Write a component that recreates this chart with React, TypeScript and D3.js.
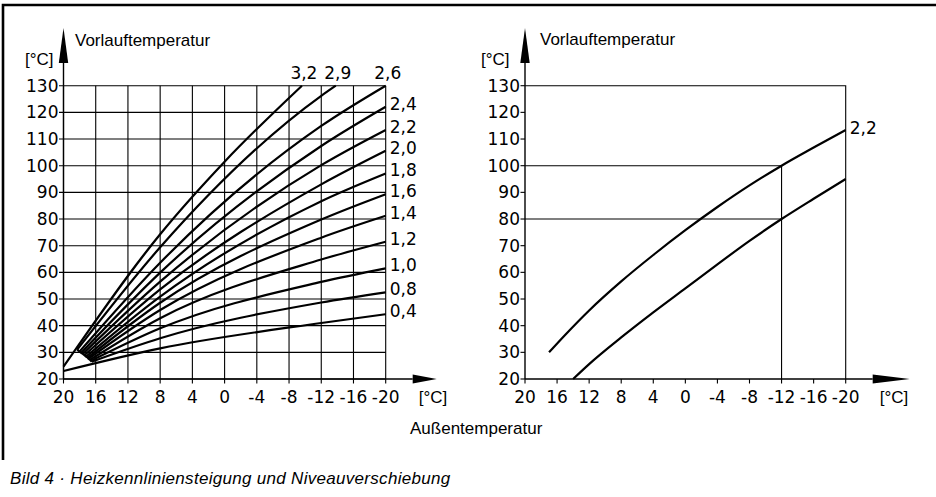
import React from 'react';
import * as d3 from 'd3';

const X_TICKS = [20, 16, 12, 8, 4, 0, -4, -8, -12, -16, -20];
const Y_TICKS = [20, 30, 40, 50, 60, 70, 80, 90, 100, 110, 120, 130];

// Heizkennlinien, points as [Außentemperatur, Vorlauftemperatur]
const curve32 = [[20, 24.6], [8, 74.3], [0, 101.5], [-9.6, 130]];
const curve29 = [[18.3, 31], [8, 69.4], [-12, 126.2], [-13.8, 130]];
const curve26 = [[18, 30.3], [8, 63.6], [-12, 114.9], [-20, 130]];
const curve24 = [[17.8, 29.8], [8, 59.9], [-12, 107.4], [-20, 122.1]];
const curve22 = [[17.6, 29.4], [8, 56.5], [-12, 100.2], [-20, 113.4]];
const curve20 = [[17.4, 28.9], [8, 53.6], [-12, 93.0], [-20, 105.6]];
const curve18 = [[17.2, 28.4], [8, 50.9], [-12, 86.7], [-20, 97.1]];
const curve16 = [[17.0, 28.0], [8, 48.6], [-12, 79.8], [-20, 89.3]];
const curve14 = [[16.9, 27.6], [8, 45.9], [-12, 73.0], [-20, 81.2]];
const curve12 = [[16.7, 27.2], [8, 42.8], [-12, 64.8], [-20, 71.5]];
const curve10 = [[16.6, 26.8], [8, 39.0], [-12, 56.4], [-20, 61.5]];
const curve08 = [[16.5, 26.5], [8, 35.3], [-12, 48.7], [-20, 52.5]];
const curve04 = [[20, 23.0], [8, 31.5], [-12, 41.0], [-20, 44.3]];

const SLOPE_LABELS = ['3,2', '2,9', '2,6', '2,4', '2,2', '2,0', '1,8', '1,6', '1,4', '1,2', '1,0', '0,8', '0,4'];
const SLOPE_CURVES = [curve32, curve29, curve26, curve24, curve22, curve20, curve18, curve16, curve14, curve12, curve10, curve08, curve04];

// Niveauverschiebung (right)
const level22 = [[17, 30], [15, 36.5], [12, 45.7], [8, 56.6], [4, 66.5], [0, 75.8], [-4, 84.5], [-8, 92.6], [-12, 100], [-16, 106.8], [-20, 113.4]];
const levelShifted = [[14, 20], [12, 25.6], [8, 35.6], [4, 45], [0, 54], [-4, 63], [-8, 71.8], [-12, 80], [-16, 87.6], [-20, 95]];
const GUIDE_X = -12;
const GUIDE_Y = [100, 80];

const NUM_FONT = "'DejaVu Sans', sans-serif";
const TXT_FONT = "'Liberation Sans', Arial, sans-serif";

const y = d3.scaleLinear().domain([20, 130]).range([379, 85.7]);
const xL = d3.scaleLinear().domain([20, -20]).range([63.5, 385.7]);
const xR = d3.scaleLinear().domain([20, -20]).range([525, 845.7]);

const lineFor = (xs: d3.ScaleLinear<number, number>) =>
  d3
    .line<number[]>()
    .x((d) => xs(d[0]))
    .y((d) => y(d[1]))
    .curve(d3.curveMonotoneX);

const Axes = ({ xs, arrowLen, grid }: { xs: d3.ScaleLinear<number, number>; arrowLen: number; grid: boolean }) => {
  const x0 = xs(20);
  const x1 = xs(-20);
  const yTop = y(130);
  const yBot = y(20);
  const axEnd = x1 + 27;
  return (
    <g>
      {Y_TICKS.map((t) => (
        <g key={'y' + t}>
          <line x1={x0 - 4.5} x2={grid ? x1 : x0} y1={y(t)} y2={y(t)} stroke="#000" strokeWidth={1.1} />
          <text x={x0 - 5} y={y(t)} textAnchor="end" dominantBaseline="central" fontFamily={NUM_FONT} fontSize={17}>
            {t}
          </text>
        </g>
      ))}
      {X_TICKS.map((t) => (
        <g key={'x' + t}>
          <line x1={xs(t)} x2={xs(t)} y1={yBot + 4.5} y2={grid ? yTop : yBot} stroke="#000" strokeWidth={1.1} />
          <text x={xs(t)} y={yBot + 18} textAnchor="middle" dominantBaseline="central" fontFamily={NUM_FONT} fontSize={17}>
            {t}
          </text>
        </g>
      ))}
      {/* y axis with arrow */}
      <line x1={x0} x2={x0} y1={yBot} y2={63} stroke="#000" strokeWidth={1.4} />
      <path d={`M${x0},28L${x0 + 4.7},63L${x0 - 4.7},63Z`} fill="#000" />
      {/* x axis with arrow */}
      <line x1={x0} x2={axEnd} y1={yBot} y2={yBot} stroke="#000" strokeWidth={1.4} />
      <path d={`M${axEnd + arrowLen},${yBot}L${axEnd},${yBot - 4.5}L${axEnd},${yBot + 4.5}Z`} fill="#000" />
    </g>
  );
};

export default function App() {
  const lineL = lineFor(xL);
  const lineR = lineFor(xR);
  const starts = SLOPE_CURVES.slice(1, 12).map((c) => c[0]);
  return (
    <svg width={936} height={497} style={{ position: 'absolute', left: 0, top: 0, background: '#fff' }}>
      {/* frame */}
      <path d="M3,460V5H936" fill="none" stroke="#000" strokeWidth={2.6} />

      {/* left chart */}
      <Axes xs={xL} arrowLen={24} grid={true} />
      <text x={75} y={46} fontFamily={TXT_FONT} fontSize={17}>Vorlauftemperatur</text>
      <text x={25} y={65} fontFamily={TXT_FONT} fontSize={17}>[°C]</text>
      <text x={433} y={397} textAnchor="middle" dominantBaseline="central" fontFamily={TXT_FONT} fontSize={17}>[°C]</text>
      <g fill="none" stroke="#000" strokeWidth={2.2}>
        {SLOPE_CURVES.map((c, i) => (
          <path key={SLOPE_LABELS[i]} d={lineL(c) || ''} />
        ))}
        <path d={d3.line()(starts.map((p) => [xL(p[0]), y(p[1])]) as [number, number][]) || ''} />
      </g>
      {SLOPE_CURVES.map((c, i) => {
        const end = c[c.length - 1];
        const top = end[1] >= 130;
        return (
          <text
            key={'l' + SLOPE_LABELS[i]}
            x={top ? xL(end[0]) + 2 : xL(end[0]) + 4}
            y={top ? y(end[1]) - 7 : y(end[1]) - 3}
            textAnchor={top ? 'middle' : 'start'}
            dominantBaseline={top ? 'alphabetic' : 'central'}
            fontFamily={NUM_FONT}
            fontSize={17}
          >
            {SLOPE_LABELS[i]}
          </text>
        );
      })}

      {/* right chart */}
      <Axes xs={xR} arrowLen={37} grid={false} />
      <g stroke="#000" strokeWidth={1.1} fill="none">
        <path d={`M${xR(20)},${y(130)}H${xR(-20)}V${y(20)}`} />
        {GUIDE_Y.map((g) => (
          <line key={'g' + g} x1={xR(20)} x2={xR(GUIDE_X)} y1={y(g)} y2={y(g)} />
        ))}
        <line x1={xR(GUIDE_X)} x2={xR(GUIDE_X)} y1={y(d3.max(GUIDE_Y) as number)} y2={y(20)} />
      </g>
      <g fill="none" stroke="#000" strokeWidth={2.2}>
        <path d={lineR(level22) || ''} />
        <path d={lineR(levelShifted) || ''} />
      </g>
      <text x={xR(-20) + 4} y={y(level22[level22.length - 1][1]) - 2} dominantBaseline="central" fontFamily={NUM_FONT} fontSize={17}>
        2,2
      </text>
      <text x={540} y={45} fontFamily={TXT_FONT} fontSize={17}>Vorlauftemperatur</text>
      <text x={481} y={65} fontFamily={TXT_FONT} fontSize={17}>[°C]</text>
      <text x={894} y={397} textAnchor="middle" dominantBaseline="central" fontFamily={TXT_FONT} fontSize={17}>[°C]</text>

      <text x={410} y={428} dominantBaseline="central" fontFamily={TXT_FONT} fontSize={17}>Außentemperatur</text>
      <text x={10} y={478} dominantBaseline="central" fontFamily={TXT_FONT} fontSize={17} letterSpacing={0.3} fontStyle="italic">
        Bild 4 · Heizkennliniensteigung und Niveauverschiebung
      </text>
    </svg>
  );
}
